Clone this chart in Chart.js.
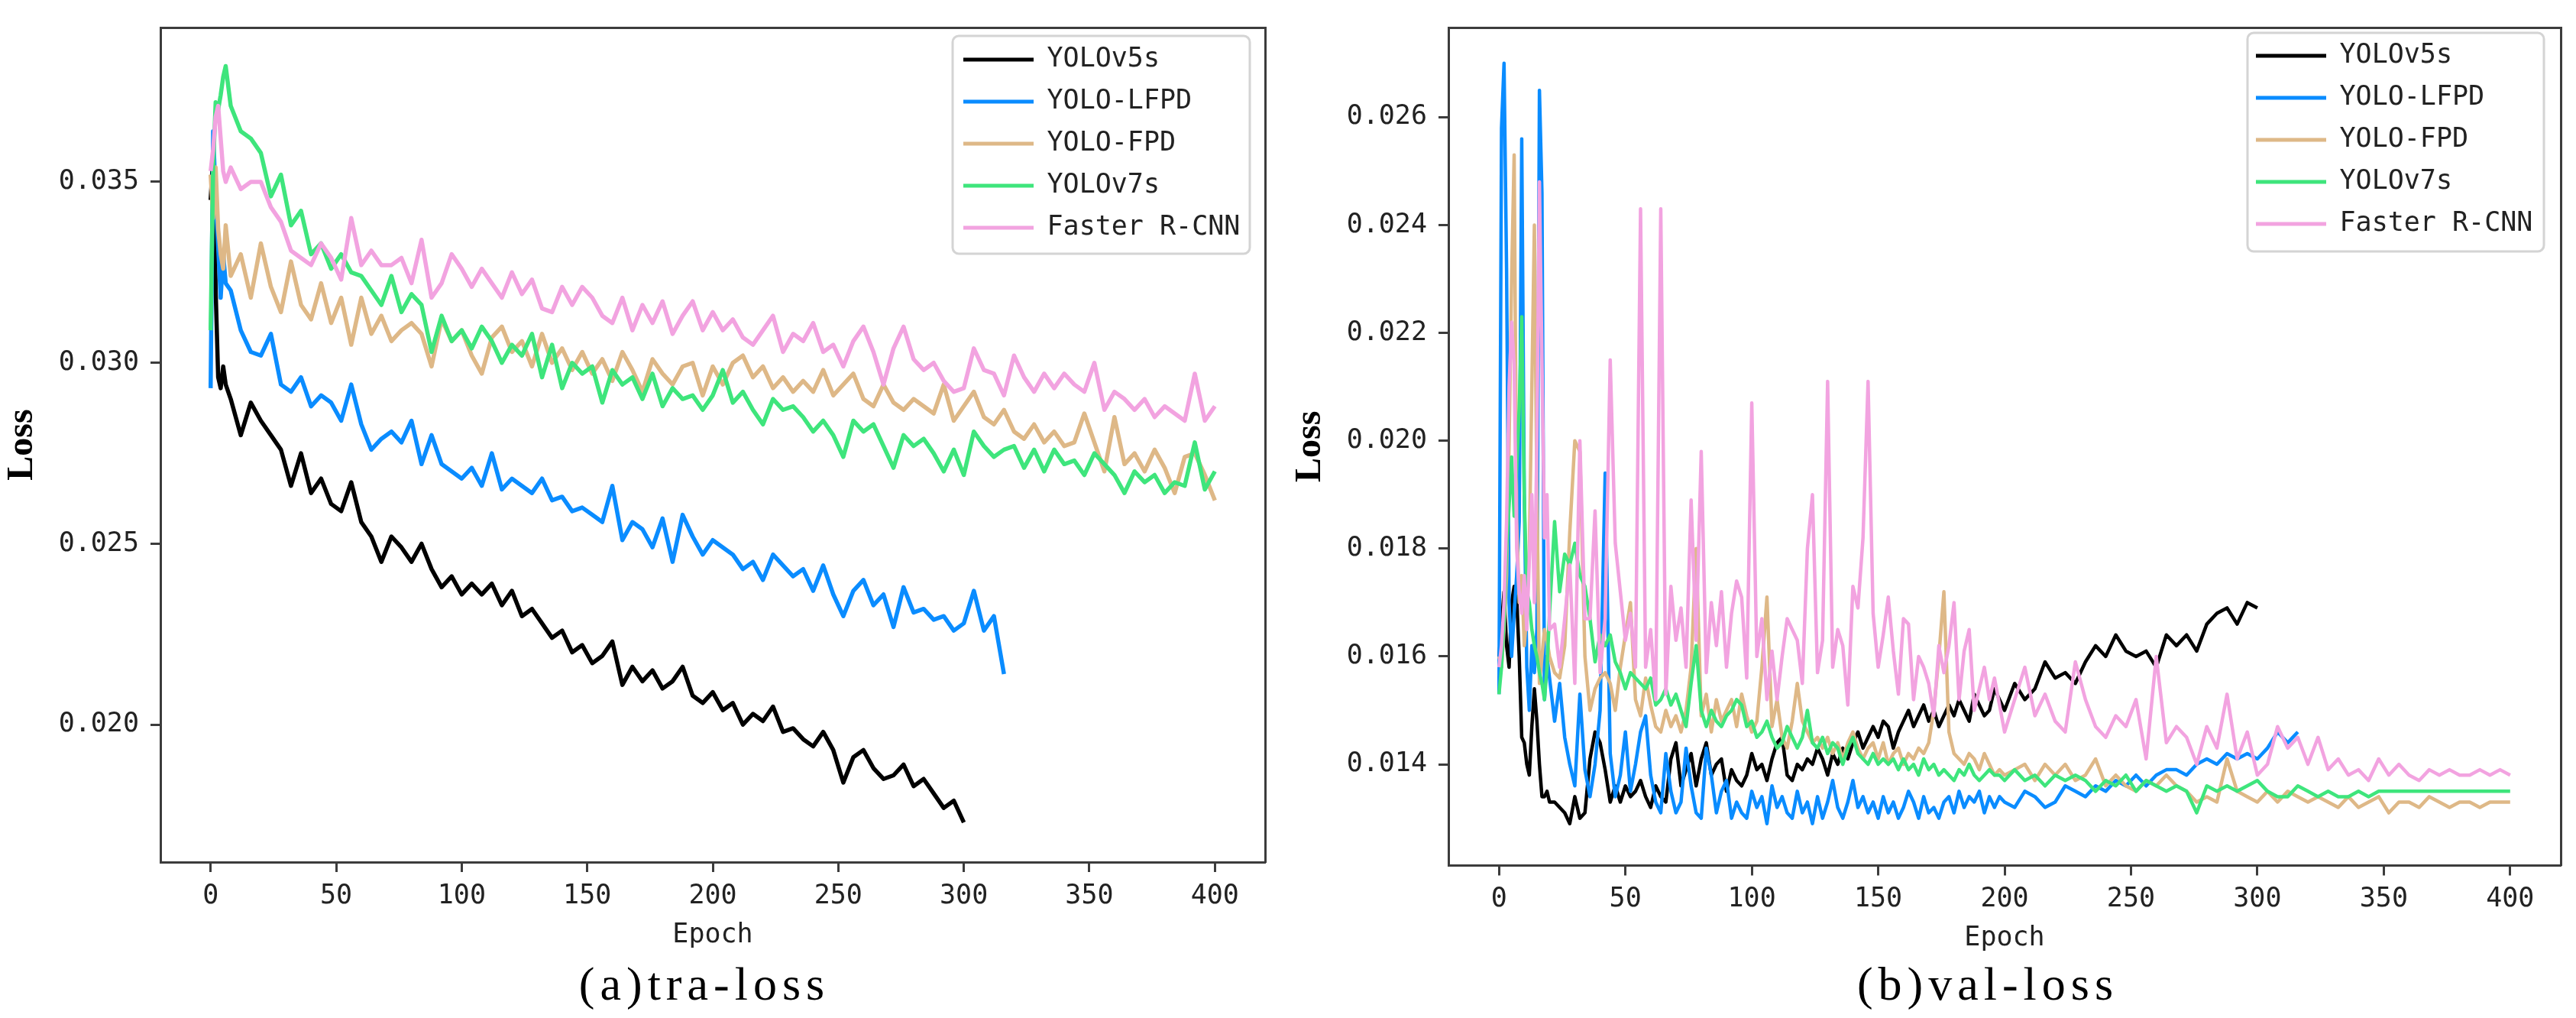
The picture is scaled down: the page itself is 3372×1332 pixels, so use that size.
<!DOCTYPE html>
<html><head><meta charset="utf-8">
<script src="https://cdn.jsdelivr.net/npm/chart.js@4.4.1/dist/chart.umd.min.js"></script>
<style>
html,body{margin:0;padding:0;background:#fff;}
body{width:3372px;height:1332px;position:relative;overflow:hidden;}
.box{position:absolute;top:0;height:1260px;}
.cap{position:absolute;width:700px;text-align:center;font-family:'Liberation Serif','DejaVu Serif',serif;font-size:62px;letter-spacing:7px;line-height:70px;color:#000;white-space:nowrap;}
</style></head><body>
<div class="box" style="left:0;width:1680px"><canvas id="cTrain"></canvas></div>
<div class="box" style="left:1680px;width:1692px"><canvas id="cVal"></canvas></div>
<div class="cap" style="left:572px;top:1252px">(a)tra-loss</div>
<div class="cap" style="left:2252px;top:1252px">(b)val-loss</div>
<script>
// ---------- categories / ticks ----------
const seriesNames = ['YOLOv5s','YOLO-LFPD','YOLO-FPD','YOLOv7s','Faster R-CNN'];
const seriesColors = ['#000000','#0a8cff','#deb887','#3ee57c','#f2a3e0'];
const xTicks = [0,50,100,150,200,250,300,350,400];
const trainYTicks = [0.020,0.025,0.030,0.035];
const valYTicks = [0.014,0.016,0.018,0.020,0.022,0.024,0.026];

// ---------- epochs ----------
const trainEpochs = [0,1,2,3,4,5,6,8,12,16,20,24,28,32,36,40,44,48,52,56,60,64,68,72,76,80,84,88,92,96,100,
104,108,112,116,120,124,128,132,136,140,144,148,152,156,160,164,168,172,176,180,184,188,192,196,200,
204,208,212,216,220,224,228,232,236,240,244,248,252,256,260,264,268,272,276,280,284,288,292,296,300,
304,308,312,316,320,324,328,332,336,340,344,348,352,356,360,364,368,372,376,380,384,388,392,396,400];
const valEpochs = [0,1,2,3,4,5,6,7,8,9,10,11,12,13,14,15,16,17,18,19,20,
22,24,26,28,30,32,34,36,38,40,42,44,46,48,50,52,54,56,58,60,62,64,66,68,70,72,74,76,78,80,
82,84,86,88,90,92,94,96,98,100,102,104,106,108,110,112,114,116,118,120,122,124,126,128,130,132,134,136,138,140,
142,144,146,148,150,152,154,156,158,160,162,164,166,168,170,172,174,176,178,180,182,184,186,188,190,192,194,196,198,200,
204,208,212,216,220,224,228,232,236,240,244,248,252,256,260,264,268,272,276,280,284,288,292,296,300,
304,308,312,316,320,324,328,332,336,340,344,348,352,356,360,364,368,372,376,380,384,388,392,396,400];

// ---------- training loss ----------
const trainYOLOv5s = [0.0345,0.0357,0.0320,0.0296,0.0293,0.0299,0.0294,
0.0290,0.0280,0.0289,0.0284,0.0280,0.0276,0.0266,0.0275,0.0264,0.0268,
0.0261,0.0259,0.0267,0.0256,0.0252,0.0245,0.0252,0.0249,0.0245,0.0250,
0.0243,0.0238,0.0241,0.0236,0.0239,0.0236,0.0239,0.0233,0.0237,0.0230,
0.0232,0.0228,0.0224,0.0226,0.0220,0.0222,0.0217,0.0219,0.0223,0.0211,
0.0216,0.0212,0.0215,0.0210,0.0212,0.0216,0.0208,0.0206,0.0209,0.0204,
0.0206,0.0200,0.0203,0.0201,0.0205,0.0198,0.0199,0.0196,0.0194,0.0198,
0.0193,0.0184,0.0191,0.0193,0.0188,0.0185,0.0186,0.0189,0.0183,0.0185,
0.0181,0.0177,0.0179,0.0173];
const trainLFPD = [0.0293,0.0364,0.0345,0.0332,0.0318,0.0330,0.0322,
0.0320,0.0309,0.0303,0.0302,0.0308,0.0294,0.0292,0.0296,0.0288,0.0291,
0.0289,0.0284,0.0294,0.0283,0.0276,0.0279,0.0281,0.0278,0.0284,0.0272,
0.0280,0.0272,0.0270,0.0268,0.0271,0.0266,0.0275,0.0265,0.0268,0.0266,
0.0264,0.0268,0.0262,0.0263,0.0259,0.0260,0.0258,0.0256,0.0266,0.0251,
0.0256,0.0254,0.0249,0.0257,0.0245,0.0258,0.0252,0.0247,0.0251,0.0249,
0.0247,0.0243,0.0245,0.0240,0.0247,0.0244,0.0241,0.0243,0.0237,0.0244,
0.0236,0.0230,0.0237,0.0240,0.0233,0.0236,0.0227,0.0238,0.0231,0.0232,
0.0229,0.0230,0.0226,0.0228,0.0237,0.0226,0.0230,0.0214];
const trainFPD = [0.0352,0.0340,0.0354,0.0337,0.0330,0.0326,0.0338,
0.0324,0.0330,0.0318,0.0333,0.0321,0.0314,0.0328,0.0316,0.0312,0.0322,
0.0311,0.0318,0.0305,0.0318,0.0308,0.0313,0.0306,0.0309,0.0311,0.0308,
0.0299,0.0312,0.0306,0.0309,0.0302,0.0297,0.0307,0.0310,0.0303,0.0306,
0.0299,0.0308,0.0300,0.0304,0.0298,0.0303,0.0297,0.0301,0.0295,0.0303,
0.0298,0.0292,0.0301,0.0297,0.0294,0.0299,0.0300,0.0291,0.0299,0.0294,
0.0300,0.0302,0.0296,0.0299,0.0293,0.0296,0.0292,0.0295,0.0292,0.0298,
0.0291,0.0294,0.0297,0.0290,0.0288,0.0294,0.0289,0.0287,0.0290,0.0288,
0.0286,0.0294,0.0284,0.0288,0.0292,0.0285,0.0283,0.0287,0.0281,0.0279,
0.0283,0.0278,0.0281,0.0277,0.0278,0.0286,0.0278,0.0270,0.0285,0.0272,
0.0275,0.0270,0.0276,0.0271,0.0264,0.0274,0.0275,0.0269,0.0262];
const trainYOLOv7s = [0.0309,0.0354,0.0372,0.0370,0.0374,0.0379,0.0382,
0.0371,0.0364,0.0362,0.0358,0.0346,0.0352,0.0338,0.0342,0.0330,0.0333,
0.0326,0.0330,0.0325,0.0324,0.0320,0.0316,0.0324,0.0314,0.0319,0.0316,
0.0303,0.0313,0.0306,0.0309,0.0304,0.0310,0.0306,0.0300,0.0305,0.0302,
0.0308,0.0296,0.0305,0.0293,0.0300,0.0297,0.0299,0.0289,0.0298,0.0294,
0.0296,0.0290,0.0297,0.0288,0.0293,0.0290,0.0291,0.0287,0.0291,0.0298,
0.0289,0.0292,0.0287,0.0283,0.0290,0.0287,0.0288,0.0285,0.0281,0.0284,
0.0280,0.0274,0.0284,0.0281,0.0283,0.0277,0.0271,0.0280,0.0277,0.0279,
0.0275,0.0270,0.0276,0.0269,0.0281,0.0277,0.0274,0.0276,0.0277,0.0271,
0.0276,0.0270,0.0276,0.0272,0.0273,0.0269,0.0275,0.0272,0.0269,0.0264,
0.0270,0.0267,0.0269,0.0264,0.0267,0.0266,0.0278,0.0265,0.0270];
const trainFasterRCNN = [0.0353,0.0359,0.0368,0.0371,0.0362,0.0353,0.0350,
0.0354,0.0348,0.0350,0.0350,0.0343,0.0339,0.0331,0.0329,0.0327,0.0333,
0.0329,0.0323,0.0340,0.0327,0.0331,0.0327,0.0327,0.0329,0.0322,0.0334,
0.0318,0.0322,0.0330,0.0326,0.0321,0.0326,0.0322,0.0318,0.0325,0.0319,
0.0323,0.0315,0.0314,0.0321,0.0316,0.0321,0.0318,0.0313,0.0311,0.0318,
0.0309,0.0316,0.0311,0.0317,0.0308,0.0313,0.0317,0.0309,0.0314,0.0309,
0.0312,0.0307,0.0305,0.0309,0.0313,0.0303,0.0308,0.0306,0.0311,0.0303,
0.0305,0.0299,0.0306,0.0310,0.0303,0.0294,0.0304,0.0310,0.0301,0.0298,
0.0300,0.0295,0.0292,0.0293,0.0304,0.0298,0.0297,0.0291,0.0302,0.0296,
0.0292,0.0297,0.0293,0.0297,0.0294,0.0292,0.0300,0.0287,0.0292,0.0290,
0.0287,0.0290,0.0285,0.0288,0.0286,0.0284,0.0297,0.0284,0.0288];

// ---------- validation loss ----------
const valYOLOv5s = [0.0160,0.0166,0.0172,0.0162,0.0158,0.0170,0.0173,0.0171,0.0160,0.0145,0.0144,0.0140,0.0138,0.0147,0.0154,0.0148,0.0140,0.0134,0.0134,0.0135,0.0133,
0.0133,0.0132,0.0131,0.0129,0.0134,0.0130,0.0131,0.0141,0.0146,0.0144,
0.0139,0.0133,0.0136,0.0133,0.0136,0.0134,0.0135,0.0137,0.0134,0.0132,
0.0136,0.0134,0.0133,0.0141,0.0144,0.0136,0.0139,0.0142,0.0136,0.0141,
0.0144,0.0138,0.0140,0.0141,0.0135,0.0139,0.0137,0.0136,0.0138,0.0142,
0.0139,0.0140,0.0137,0.0141,0.0144,0.0145,0.0138,0.0137,0.0140,0.0139,
0.0141,0.0140,0.0143,0.0141,0.0138,0.0142,0.0140,0.0143,0.0141,0.0144,
0.0146,0.0143,0.0145,0.0147,0.0145,0.0148,0.0147,0.0143,0.0146,0.0148,
0.0150,0.0147,0.0149,0.0151,0.0148,0.0150,0.0147,0.0149,0.0151,0.0149,
0.0152,0.0150,0.0148,0.0153,0.0151,0.0149,0.0150,0.0154,0.0152,0.0150,
0.0155,0.0152,0.0154,0.0159,0.0156,0.0157,0.0155,0.0159,0.0162,0.0160,
0.0164,0.0161,0.0160,0.0161,0.0158,0.0164,0.0162,0.0164,0.0161,0.0166,
0.0168,0.0169,0.0166,0.0170,0.0169];
const valLFPD = [0.0153,0.0258,0.0270,0.0232,0.0170,0.0160,0.0168,0.0175,0.0185,0.0256,0.0190,0.0158,0.0150,0.0162,0.0157,0.0165,0.0265,0.0246,0.0152,0.0160,0.0156,
0.0148,0.0155,0.0145,0.0140,0.0136,0.0153,0.0139,0.0134,0.0140,0.0150,
0.0194,0.0142,0.0134,0.0138,0.0146,0.0135,0.0140,0.0146,0.0149,0.0138,
0.0133,0.0131,0.0142,0.0135,0.0131,0.0133,0.0143,0.0136,0.0131,0.0130,
0.0143,0.0138,0.0131,0.0135,0.0137,0.0130,0.0133,0.0131,0.0130,0.0135,
0.0132,0.0134,0.0129,0.0136,0.0132,0.0134,0.0131,0.0130,0.0135,0.0131,
0.0133,0.0129,0.0134,0.0130,0.0133,0.0137,0.0132,0.0130,0.0133,0.0137,
0.0132,0.0134,0.0131,0.0133,0.0130,0.0134,0.0131,0.0133,0.0130,0.0132,
0.0135,0.0133,0.0130,0.0134,0.0131,0.0132,0.0130,0.0133,0.0134,0.0131,
0.0135,0.0132,0.0134,0.0133,0.0135,0.0131,0.0134,0.0132,0.0134,0.0133,
0.0132,0.0135,0.0134,0.0132,0.0133,0.0136,0.0135,0.0134,0.0136,0.0135,
0.0137,0.0136,0.0138,0.0136,0.0138,0.0139,0.0139,0.0138,0.0140,0.0141,
0.0140,0.0142,0.0141,0.0142,0.0141,0.0143,0.0146,0.0144,0.0146];
const valFPD = [0.0160,0.0158,0.0165,0.0175,0.0200,0.0230,0.0253,0.0185,0.0170,0.0175,0.0162,0.0168,0.0180,0.0210,0.0240,0.0190,0.0155,0.0160,0.0165,0.0163,0.0160,
0.0157,0.0156,0.0162,0.0183,0.0200,0.0198,0.0160,0.0150,0.0154,0.0156,
0.0157,0.0155,0.0150,0.0158,0.0164,0.0170,0.0152,0.0149,0.0156,0.0151,
0.0147,0.0146,0.0150,0.0147,0.0149,0.0146,0.0150,0.0158,0.0180,0.0149,
0.0153,0.0146,0.0152,0.0148,0.0150,0.0152,0.0147,0.0153,0.0149,0.0146,
0.0148,0.0158,0.0171,0.0147,0.0152,0.0145,0.0143,0.0148,0.0155,0.0148,
0.0146,0.0144,0.0145,0.0143,0.0145,0.0142,0.0144,0.0141,0.0144,0.0146,
0.0143,0.0141,0.0143,0.0144,0.0141,0.0144,0.0140,0.0142,0.0143,0.0140,
0.0142,0.0141,0.0143,0.0142,0.0144,0.0150,0.0160,0.0172,0.0146,0.0142,
0.0141,0.0140,0.0142,0.0141,0.0139,0.0142,0.0140,0.0138,0.0139,0.0138,
0.0139,0.0140,0.0137,0.0140,0.0138,0.0140,0.0137,0.0138,0.0141,0.0136,
0.0138,0.0136,0.0135,0.0137,0.0136,0.0138,0.0136,0.0135,0.0133,0.0134,
0.0133,0.0141,0.0135,0.0134,0.0133,0.0135,0.0133,0.0135,0.0134,0.0133,
0.0134,0.0133,0.0132,0.0134,0.0132,0.0133,0.0134,0.0131,0.0133,0.0133,
0.0132,0.0134,0.0133,0.0132,0.0133,0.0133,0.0132,0.0133,0.0133,0.0133];
const valYOLOv7s = [0.0153,0.0158,0.0167,0.0180,0.0188,0.0197,0.0186,0.0195,0.0206,0.0223,0.0190,0.0172,0.0170,0.0165,0.0162,0.0160,0.0157,0.0155,0.0152,0.0158,0.0168,
0.0185,0.0172,0.0179,0.0177,0.0181,0.0175,0.0173,0.0167,0.0159,0.0164,
0.0162,0.0164,0.0159,0.0157,0.0154,0.0157,0.0156,0.0155,0.0154,0.0156,
0.0151,0.0152,0.0154,0.0151,0.0153,0.0150,0.0147,0.0155,0.0162,0.0150,
0.0147,0.0150,0.0148,0.0147,0.0149,0.0150,0.0152,0.0151,0.0147,0.0148,
0.0145,0.0146,0.0148,0.0145,0.0143,0.0144,0.0147,0.0145,0.0143,0.0145,
0.0150,0.0144,0.0143,0.0145,0.0142,0.0144,0.0143,0.0140,0.0143,0.0145,
0.0142,0.0141,0.0140,0.0142,0.0140,0.0141,0.0140,0.0141,0.0139,0.0141,
0.0139,0.0140,0.0138,0.0141,0.0139,0.0140,0.0138,0.0139,0.0138,0.0137,
0.0139,0.0138,0.0140,0.0138,0.0137,0.0138,0.0139,0.0138,0.0138,0.0137,
0.0139,0.0137,0.0138,0.0136,0.0138,0.0137,0.0138,0.0137,0.0135,0.0137,
0.0136,0.0138,0.0135,0.0137,0.0136,0.0135,0.0136,0.0135,0.0131,0.0136,
0.0135,0.0136,0.0135,0.0136,0.0137,0.0135,0.0134,0.0134,0.0136,0.0135,
0.0134,0.0135,0.0134,0.0134,0.0135,0.0134,0.0135,0.0135,0.0135,0.0135,
0.0135,0.0135,0.0135,0.0135,0.0135,0.0135,0.0135,0.0135,0.0135,0.0135];
const valFasterRCNN = [0.0158,0.0162,0.0170,0.0185,0.0210,0.0222,0.0214,0.0180,0.0172,0.0168,0.0175,0.0165,0.0178,0.0190,0.0170,0.0200,0.0248,0.0215,0.0182,0.0190,0.0165,
0.0166,0.0158,0.0167,0.0177,0.0155,0.0200,0.0167,0.0167,0.0187,0.0157,
0.0167,0.0215,0.0181,0.0172,0.0163,0.0168,0.0158,0.0243,0.0158,0.0165,
0.0152,0.0243,0.0153,0.0173,0.0163,0.0169,0.0158,0.0189,0.0163,0.0198,
0.0157,0.0170,0.0162,0.0172,0.0158,0.0168,0.0174,0.0171,0.0156,0.0207,
0.0160,0.0167,0.0152,0.0161,0.0152,0.0160,0.0167,0.0165,0.0163,0.0155,
0.0180,0.0190,0.0157,0.0163,0.0211,0.0158,0.0165,0.0162,0.0151,0.0173,
0.0169,0.0182,0.0211,0.0168,0.0158,0.0164,0.0171,0.0161,0.0153,0.0167,
0.0166,0.0152,0.0160,0.0158,0.0155,0.0149,0.0162,0.0157,0.0162,0.0170,
0.0152,0.0161,0.0165,0.0150,0.0154,0.0158,0.0152,0.0156,0.0151,0.0146,
0.0152,0.0158,0.0149,0.0153,0.0148,0.0146,0.0159,0.0152,0.0147,0.0145,
0.0149,0.0147,0.0152,0.0141,0.0160,0.0144,0.0147,0.0145,0.0140,0.0147,
0.0143,0.0153,0.0141,0.0146,0.0138,0.0140,0.0147,0.0143,0.0145,0.0140,
0.0145,0.0139,0.0141,0.0138,0.0139,0.0137,0.0141,0.0138,0.0140,0.0138,
0.0137,0.0139,0.0138,0.0139,0.0138,0.0138,0.0139,0.0138,0.0139,0.0138];

// ---------- drawing ----------
const SPINE = '#3c3c3c';
const TXT = '#222222';
const MONO = "'DejaVu Sans Mono', 'Liberation Mono', monospace";

const legendPlacer = {
  id: 'legendPlacer',
  afterLayout(chart, args, o) {
    const lg = chart.legend;
    if (!lg || o.lineX === undefined) return;
    const pad = 20;
    lg.left = o.lineX - pad;
    lg.top = o.firstY - 17.5 - pad;
    lg.width = o.fw + 40;
    lg.height = o.fh + 40;
    lg.right = lg.left + lg.width;
    lg.bottom = lg.top + lg.height;
  },
  beforeDraw(chart, args, o) {
    if (o.fx === undefined) return;
    const ctx = chart.ctx;
    const x = o.fx, y = o.fy, w = o.fw, h = o.fh, r = 8;
    ctx.save();
    ctx.beginPath();
    ctx.moveTo(x + r, y);
    ctx.arcTo(x + w, y, x + w, y + h, r);
    ctx.arcTo(x + w, y + h, x, y + h, r);
    ctx.arcTo(x, y + h, x, y, r);
    ctx.arcTo(x, y, x + w, y, r);
    ctx.closePath();
    ctx.fillStyle = 'rgba(255,255,255,0.85)';
    ctx.fill();
    ctx.strokeStyle = '#d4d4d4';
    ctx.lineWidth = 3;
    ctx.stroke();
    ctx.restore();
  }
};

function makeChart(id, epochs, series, cfg) {
  const datasets = series.map((vals, i) => ({
    label: seriesNames[i],
    data: vals.map((v, k) => ({x: epochs[k], y: v})),
    borderColor: seriesColors[i],
    backgroundColor: seriesColors[i],
    borderWidth: cfg.lineW,
    pointRadius: 0,
    pointHoverRadius: 0,
    tension: 0,
    fill: false,
    borderJoinStyle: 'round',
    order: series.length - 1 - i
  }));
  const tickFont = {family: MONO, size: 35};
  const axisCommon = {
    grid: {display: true, drawOnChartArea: false, drawTicks: true, tickLength: 13, tickWidth: 3, tickColor: SPINE, color: SPINE},
    border: {display: true, color: SPINE, width: 3}
  };
  return new Chart(document.getElementById(id), {
    type: 'line',
    data: {datasets},
    plugins: [legendPlacer],
    options: {
      animation: false,
      responsive: true,
      maintainAspectRatio: false,
      devicePixelRatio: 1,
      events: [],
      layout: {padding: {top: cfg.padTop, right: cfg.padRight, bottom: 0, left: 0}},
      scales: {
        x: Object.assign({}, axisCommon, {
          type: 'linear', position: 'bottom', min: -20, max: 420,
          afterBuildTicks: s => { s.ticks = xTicks.map(v => ({value: v})); },
          afterFit: s => { s.height = cfg.xH; },
          ticks: {font: tickFont, color: TXT, padding: cfg.xTickPad, maxRotation: 0, autoSkip: false, callback: v => String(v)},
          title: {display: true, text: 'Epoch', font: {family: MONO, size: 35}, color: TXT, padding: {top: 0, bottom: cfg.xTitlePad}}
        }),
        y: Object.assign({}, axisCommon, {
          type: 'linear', position: 'left', min: cfg.yMin, max: cfg.yMax,
          afterBuildTicks: s => { s.ticks = cfg.yTicks.map(v => ({value: v})); },
          afterFit: s => { s.width = cfg.yW; },
          ticks: {font: tickFont, color: TXT, padding: 15, autoSkip: false, callback: v => v.toFixed(3)},
          title: {display: true, text: 'Loss', font: {family: "'Liberation Serif', 'DejaVu Serif', serif", size: 48, weight: 'bold'}, color: '#000', padding: {top: cfg.yTitlePad, bottom: 0}}
        }),
        x2: {
          type: 'linear', position: 'top', min: -20, max: 420,
          ticks: {display: false}, grid: {display: false, drawTicks: false},
          border: {display: true, color: SPINE, width: 3},
          afterFit: s => { s.height = 0; }
        },
        y2: {
          type: 'linear', position: 'right', min: cfg.yMin, max: cfg.yMax,
          ticks: {display: false}, grid: {display: false, drawTicks: false},
          border: {display: true, color: SPINE, width: 3},
          afterFit: s => { s.width = 0; }
        }
      },
      plugins: {
        tooltip: {enabled: false},
        title: {display: false},
        legend: {
          display: true, position: 'chartArea', fullSize: false, align: 'start',
          labels: {
            font: {family: MONO, size: 35}, color: TXT, boxWidth: 92, boxHeight: 5, padding: 20,
            generateLabels: () => seriesNames.map((n, i) => ({
              text: n, fillStyle: seriesColors[i], strokeStyle: seriesColors[i], lineWidth: 0,
              hidden: false, datasetIndex: i, fontColor: TXT
            }))
          }
        },
        legendPlacer: cfg.legend
      }
    }
  });
}

makeChart('cTrain', trainEpochs,
  [trainYOLOv5s, trainLFPD, trainFPD, trainYOLOv7s, trainFasterRCNN],
  {padTop: 25.5, padRight: 24, xH: 132, yW: 210, xTickPad: 10.5, xTitlePad: 15.5, yTitlePad: 1.2,
   lineW: 5.5,
   yMin: 0.016203, yMax: 0.039266, yTicks: trainYTicks,
   legend: {lineX: 1261, firstY: 78, fx: 1247, fy: 47, fw: 389, fh: 285}});

makeChart('cVal', valEpochs,
  [valYOLOv5s, valLFPD, valFPD, valYOLOv7s, valFasterRCNN],
  {padTop: 21.2, padRight: 20, xH: 127.5, yW: 216, xTickPad: 10.5, xTitlePad: 11, yTitlePad: 6.7,
   lineW: 4.5,
   yMin: 0.012123, yMax: 0.027664, yTicks: valYTicks,
   legend: {lineX: 1273, firstY: 73, fx: 1262, fy: 43, fw: 388, fh: 286}});
</script>
</body></html>
